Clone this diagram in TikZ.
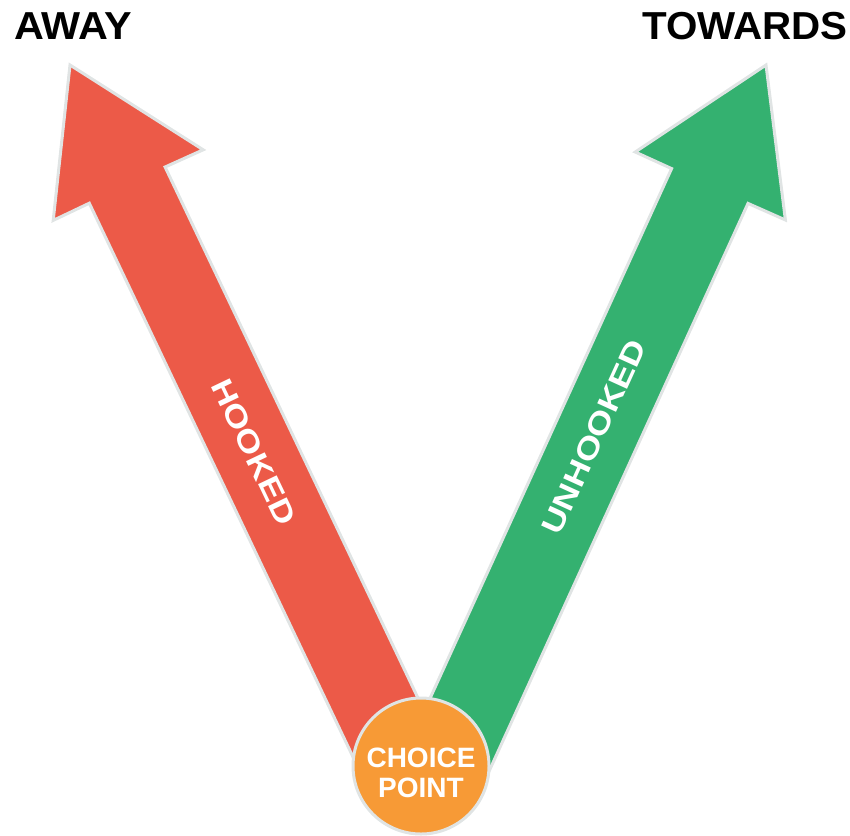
\documentclass[tikz,border=0pt]{standalone}
\usepackage{fontspec}
\setmainfont{Liberation Sans}
\definecolor{awayred}{RGB}{236,90,72}
\definecolor{towgreen}{RGB}{52,177,112}
\definecolor{choiceorange}{RGB}{247,154,54}
\definecolor{halo}{RGB}{224,228,228}
\tikzset{
  arrowbody/.style={draw=halo, line width=3pt, line join=miter},
  toplabel/.style={font=\fontsize{39}{39}\selectfont\bfseries, text=black, inner sep=0pt},
  armlabel/.style={font=\fontsize{30}{30}\selectfont\bfseries, text=white, inner sep=0pt},
  cplabel/.style={font=\fontsize{28}{28}\selectfont\bfseries, text=white, inner sep=0pt},
}
\begin{document}
\begin{tikzpicture}[x=1pt,y=-1pt]
\useasboundingbox (0,0) rectangle (850,835);
% red arrow (away)
\draw[arrowbody, fill=awayred]
  (70,65) -- (203.2,149.8) -- (165.1,167.0) -- (443.3,751.2) -- (367.5,787.4)
  -- (89.3,203.2) -- (53.2,220.4) -- cycle;
% green arrow (towards)
\draw[arrowbody, fill=towgreen]
  (766,65) -- (785.4,220.0) -- (748.0,203.4) -- (479.5,792.2) -- (403.1,757.4)
  -- (671.6,168.6) -- (635.2,152.0) -- cycle;
% choice point
\node[circle, fill=choiceorange, draw=halo, line width=3pt, minimum size=136pt, inner sep=0pt] (cp) at (421,766) {};
\node[cplabel] (cp1) at (421,757.5) {CHOICE};
\node[cplabel] (cp2) at (421,787.5) {POINT};
% labels
\node[toplabel, anchor=base west] (away) at (14,39) {\scalebox{1.06}[1]{AWAY}};
\node[toplabel, anchor=base east] (towards) at (848,39) {\scalebox{1.035}[1]{TOWARDS}};
\node[armlabel, rotate=-64.5] (hooked) at (254,452) {\scalebox{1.2}[1]{HOOKED}};
\node[armlabel, rotate=65.5] (unhooked) at (594,437) {\scalebox{1.2}[1]{UNHOOKED}};
\end{tikzpicture}
\end{document}
